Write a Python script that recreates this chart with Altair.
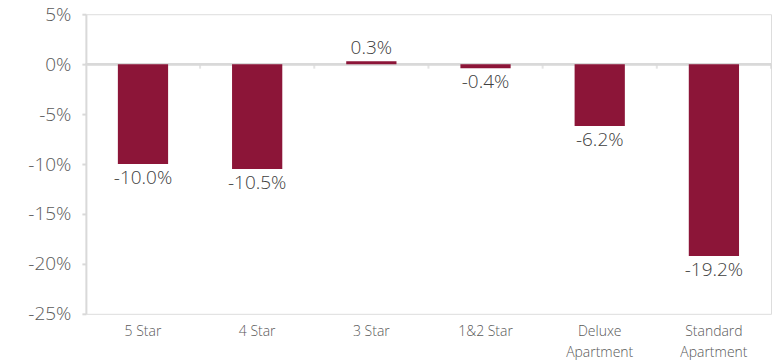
import altair as alt
import pandas as pd

categories = ["5 Star", "4 Star", "3 Star", "1&2 Star", "Deluxe Apartment", "Standard Apartment"]
values = [-10.0, -10.5, 0.3, -0.4, -6.2, -19.2]
labels = ["-10.0%", "-10.5%", "0.3%", "-0.4%", "-6.2%", "-19.2%"]

df = pd.DataFrame({"cat": categories, "val": values, "lab": labels})

BAR = "#8C1538"
FONT = "Open Sans"
W = 686
H = 300
P_INNER = 0.56
P_OUTER = 0.28
STEP = W / (len(categories) - P_INNER + 2 * P_OUTER)

x_main = alt.X("cat:N", sort=categories, title=None,
               scale=alt.Scale(paddingInner=P_INNER, paddingOuter=P_OUTER),
               axis=alt.Axis(domain=False, ticks=False, labelAngle=0, labelFontSize=14,
                             labelColor="#595959", labelFont=FONT, labelFontWeight=300,
                             labelPadding=11, labelLineHeight=21,
                             labelExpr="indexof(datum.label,'Apartment')>0 ? split(datum.label,' ') : datum.label"))
y_main = alt.Y("val:Q", title=None,
               scale=alt.Scale(domain=[-25, 5], nice=False),
               axis=alt.Axis(values=[5, 0, -5, -10, -15, -20, -25], grid=False,
                             labelExpr="datum.value + '%'", labelFontSize=19, labelColor="#595959",
                             labelFont=FONT, labelFontWeight=300, domainColor="#d9d9d9", domainWidth=2,
                             tickColor="#d9d9d9", tickSize=4, tickWidth=2, labelPadding=11,
                             minExtent=86))

bars = alt.Chart(df).mark_bar(color=BAR).encode(x=x_main, y=y_main)

zero = alt.Chart(df).mark_rule(color="#d9d9d9", strokeWidth=2).encode(
    x=alt.value(0), x2=alt.value(W), y=alt.datum(0),
)

ticks = alt.Chart(df).mark_tick(color="#d9d9d9", orient="vertical", size=5, thickness=2,
                                xOffset=STEP / 2, yOffset=2).encode(
    x=x_main, y=alt.datum(0),
)

neg = alt.Chart(df).transform_filter("datum.val < 0").mark_text(
    baseline="top", dy=5, fontSize=19, font=FONT, fontWeight=300, color="#404040"
).encode(x=x_main, y=y_main, text="lab:N")

pos = alt.Chart(df).transform_filter("datum.val >= 0").mark_text(
    baseline="bottom", dy=-3, fontSize=19, font=FONT, fontWeight=300, color="#404040"
).encode(x=x_main, y=y_main, text="lab:N")

chart = alt.layer(zero, ticks, bars, neg, pos).properties(
    width=W, height=H,
    padding={"left": 0, "top": 5, "right": 0, "bottom": 0},
).configure_view(stroke=None).configure(background="white")

chart.save("out.html", embed_options={"renderer": "svg", "actions": False})
